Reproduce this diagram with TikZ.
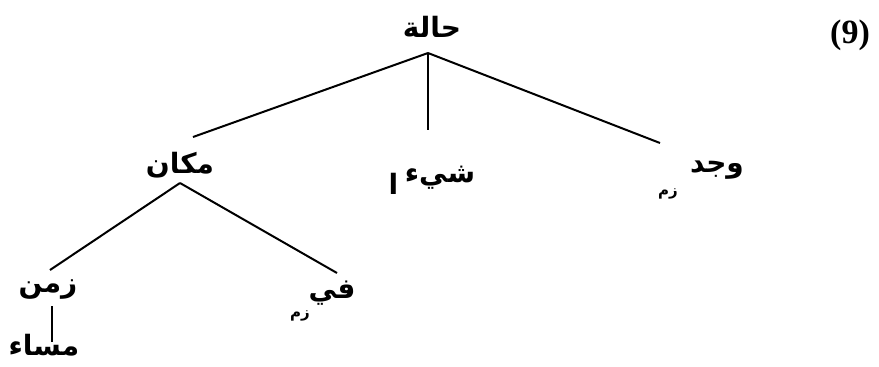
\documentclass[tikz,border=0pt]{standalone}
\usepackage{fontspec}
\usepackage{tikz}
\usetikzlibrary{positioning,calc}
\TeXXeTstate=1
\newfontfamily\arabicfont[Script=Arabic]{DejaVu Sans}
\newfontfamily\numfont{Liberation Serif}
\tikzset{
  word/.style={font=\arabicfont\bfseries\fontsize{14}{16}\selectfont,inner sep=0pt},
  tag/.style={font=\arabicfont\bfseries\fontsize{7.5}{9}\selectfont,inner sep=0pt},
  branch/.style={line width=1pt,black}
}

\begin{document}
\begin{tikzpicture}[x=0.5pt,y=-0.5pt]
  \useasboundingbox (0,0) rectangle (879,366);
  % words of the tree
  \node[word] (root) at (432,27) {\beginR حالة\endR};
  \node[font=\numfont\bfseries\fontsize{17}{19}\selectfont,inner sep=0pt] (num) at (850,35) {(9)};
  \node[word] (place) at (180,165) {\beginR مكان\endR};
  \node[word] (thing) at (440,178) {\beginR شيء\endR};
  \node[word,anchor=east] (thingmark) at ($(thing.west)+(-6,6)$) {\beginR ا\endR};
  \node[word] (found) at (717,170) {\beginR وجد\endR};
  \node[tag] (foundtag) at (668,194) {\beginR زم\endR};
  \node[word] (time) at (48,290) {\beginR زمن\endR};
  \node[word] (evening) at (44,345) {\beginR مساء\endR};
  \node[word] (in) at (332,293) {\beginR في\endR};
  \node[tag] (intag) at (300,316) {\beginR زم\endR};
  % branches
  \draw[branch] ($(root)+(-4,26)$) -- ($(place)+(13,-28)$);
  \draw[branch] ($(root)+(-4,26)$) -- ($(thing)+(-12,-48)$);
  \draw[branch] ($(root)+(-4,26)$) -- ($(found)+(-57,-27)$);
  \draw[branch] ($(place)+(0,18)$) -- ($(time)+(2,-20)$);
  \draw[branch] ($(place)+(0,18)$) -- ($(in)+(5,-20)$);
  \draw[branch] ($(time)+(4,16)$) -- ($(evening)+(8,-3)$);
\end{tikzpicture}
\end{document}
